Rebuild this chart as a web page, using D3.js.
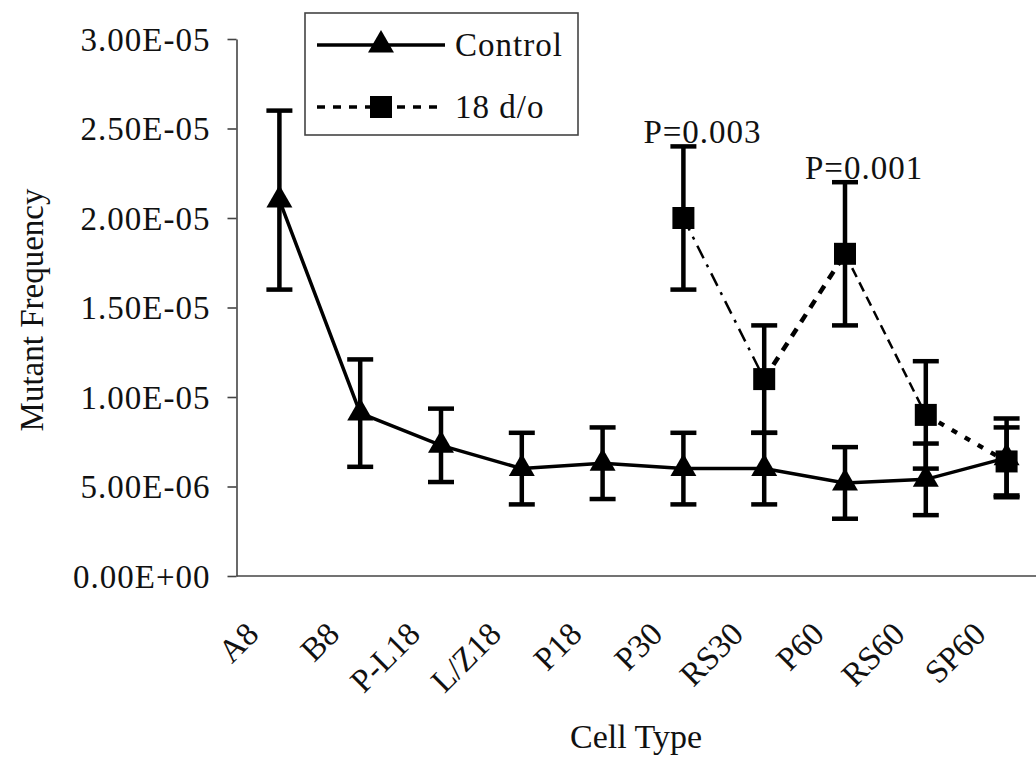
<!DOCTYPE html>
<html>
<head>
<meta charset="utf-8">
<script src="https://cdn.jsdelivr.net/npm/d3@7"></script>
<style>
    html, body { margin: 0; padding: 0; background: #fff; }
    svg text { font-family: "Liberation Serif", "Times New Roman", serif; fill: #111; }
</style>
</head>
<body>
<div id="chart"></div>
<script>
const categories = ['A8', 'B8', 'P-L18', 'L/Z18', 'P18', 'P30', 'RS30', 'P60', 'RS60', 'SP60'];
const controlValues = [2.1e-5, 9.1e-6, 7.3e-6, 6.0e-6, 6.3e-6, 6.0e-6, 6.0e-6, 5.2e-6, 5.4e-6, 6.6e-6];
const controlErrors = [5.0e-6, 3.0e-6, 2.05e-6, 2.0e-6, 2.0e-6, 2.0e-6, 2.0e-6, 2.0e-6, 2.0e-6, 2.2e-6];

const agedCategories = ['P30', 'RS30', 'P60', 'RS60', 'SP60'];
const agedValues = [2.0e-5, 1.1e-5, 1.8e-5, 9.0e-6, 6.4e-6];
const agedErrors = [4.0e-6, 3.0e-6, 4.0e-6, 3.0e-6, 1.9e-6];

const yTicks = [0, 5e-6, 1e-5, 1.5e-5, 2e-5, 2.5e-5, 3e-5];
const yTickLabels = ['0.00E+00', '5.00E-06', '1.00E-05', '1.50E-05', '2.00E-05', '2.50E-05', '3.00E-05'];

const annotations = [
    { category: 'P30', text: 'P=0.003' },
    { category: 'P60', text: 'P=0.001' }
];

const legendItems = ['Control', '18 d/o'];

// each segment of the 18 d/o line is drawn with its own dash style
const agedSegmentStyles = [
    { width: 2.5, dash: '14,7,3,7' },
    { width: 4.5, dash: '9,8' },
    { width: 2.5, dash: '10,6' },
    { width: 4.5, dash: '6,9' }
];

const W = 1036, H = 762;
const axisX = 236.5, axisY = 576;

const svg = d3.select('#chart').append('svg')
    .attr('width', W)
    .attr('height', H);

const x = d3.scaleBand().domain(categories).range([239, 1047]);
const cx = c => x(c) + x.bandwidth() / 2;
const y = d3.scaleLinear().domain([0, 3e-5]).range([576, 39]);

const control = categories.map((c, i) => ({ c, v: controlValues[i], e: controlErrors[i] }));
const aged = agedCategories.map((c, i) => ({ c, v: agedValues[i], e: agedErrors[i] }));

// y axis
const yAxis = svg.append('g')
    .attr('transform', `translate(${axisX},0)`)
    .call(d3.axisLeft(y)
        .tickValues(yTicks)
        .tickFormat((d, i) => yTickLabels[i])
        .tickSize(9)
        .tickSizeOuter(0)
        .tickPadding(17));
yAxis.selectAll('path, line').attr('stroke', '#444').attr('stroke-width', 1.6);
yAxis.selectAll('text')
    .style('font-size', '33px')
    .style('letter-spacing', '1px')
    .attr('dy', '0.34em');

// x axis
const xAxis = svg.append('g')
    .attr('transform', `translate(0,${axisY})`)
    .call(d3.axisBottom(x).tickSize(0).tickPadding(0));
xAxis.select('.domain').remove();
xAxis.append('line')
    .attr('x1', axisX).attr('x2', W)
    .attr('stroke', '#444').attr('stroke-width', 1.6);
xAxis.selectAll('.tick text')
    .attr('y', 0).attr('dy', 0)
    .attr('transform', 'translate(-19,60) rotate(-45)')
    .style('text-anchor', 'end')
    .style('font-size', '33px');

// axis titles
svg.append('text')
    .attr('transform', 'translate(43,310) rotate(-90)')
    .attr('text-anchor', 'middle')
    .style('font-size', '33px')
    .text('Mutant Frequency');

svg.append('text')
    .attr('x', 636).attr('y', 748)
    .attr('text-anchor', 'middle')
    .style('font-size', '34px')
    .text('Cell Type');

function drawErrorBars(data) {
    const g = svg.append('g').attr('stroke', '#000').attr('stroke-width', 4.5);
    g.selectAll('.bar').data(data).enter().append('line')
        .attr('x1', d => cx(d.c)).attr('x2', d => cx(d.c))
        .attr('y1', d => y(d.v - d.e)).attr('y2', d => y(d.v + d.e));
    g.selectAll('.capTop').data(data).enter().append('line')
        .attr('x1', d => cx(d.c) - 13).attr('x2', d => cx(d.c) + 13)
        .attr('y1', d => y(d.v + d.e)).attr('y2', d => y(d.v + d.e));
    g.selectAll('.capBottom').data(data).enter().append('line')
        .attr('x1', d => cx(d.c) - 13).attr('x2', d => cx(d.c) + 13)
        .attr('y1', d => y(d.v - d.e)).attr('y2', d => y(d.v - d.e));
}

const line = d3.line().x(d => cx(d.c)).y(d => y(d.v));
const triangle = d3.symbol(d3.symbolTriangle, 292);
const square = d3.symbol(d3.symbolSquare, 484);

// Control series
drawErrorBars(control);
svg.append('path')
    .datum(control)
    .attr('fill', 'none')
    .attr('stroke', '#000')
    .attr('stroke-width', 3.5)
    .attr('d', line);
svg.selectAll('.tri').data(control).enter().append('path')
    .attr('transform', d => `translate(${cx(d.c)},${y(d.v)})`)
    .attr('d', triangle)
    .attr('fill', '#000');

// 18 d/o series
drawErrorBars(aged);
const pairs = d3.pairs(aged);
svg.selectAll('.seg').data(pairs).enter().append('path')
    .attr('fill', 'none')
    .attr('stroke', '#000')
    .attr('stroke-width', (d, i) => agedSegmentStyles[i].width)
    .attr('stroke-dasharray', (d, i) => agedSegmentStyles[i].dash)
    .attr('d', d => line(d));
svg.selectAll('.sq').data(aged).enter().append('path')
    .attr('transform', d => `translate(${cx(d.c)},${y(d.v)})`)
    .attr('d', square)
    .attr('fill', '#000');

// P value labels, placed just above the top error caps
svg.selectAll('.pval').data(annotations).enter().append('text')
    .attr('x', d => cx(d.category) - 40)
    .attr('y', d => {
        const a = aged.find(p => p.c === d.category);
        return y(a.v + a.e) - 3;
    })
    .style('font-size', '33px')
    .style('letter-spacing', '1px')
    .text(d => d.text);

// legend
const legend = svg.append('g');
legend.append('rect')
    .attr('x', 305).attr('y', 13)
    .attr('width', 273).attr('height', 122)
    .attr('fill', '#fff')
    .attr('stroke', '#444').attr('stroke-width', 1.6);

const rows = legend.selectAll('.row').data(legendItems).enter().append('g')
    .attr('transform', (d, i) => `translate(0,${45 + i * 62})`);
rows.append('line')
    .attr('x1', 317).attr('x2', 445)
    .attr('stroke', '#000').attr('stroke-width', 3.5)
    .attr('stroke-dasharray', (d, i) => i === 0 ? null : '8,8');
rows.append('path')
    .attr('transform', 'translate(381,0)')
    .attr('d', (d, i) => i === 0 ? triangle() : square())
    .attr('fill', '#000');
rows.append('text')
    .attr('x', 455).attr('y', 8)
    .attr('dy', '0.1em')
    .style('font-size', '33px')
    .style('letter-spacing', '1px')
    .text(d => d);
</script>
</body>
</html>
